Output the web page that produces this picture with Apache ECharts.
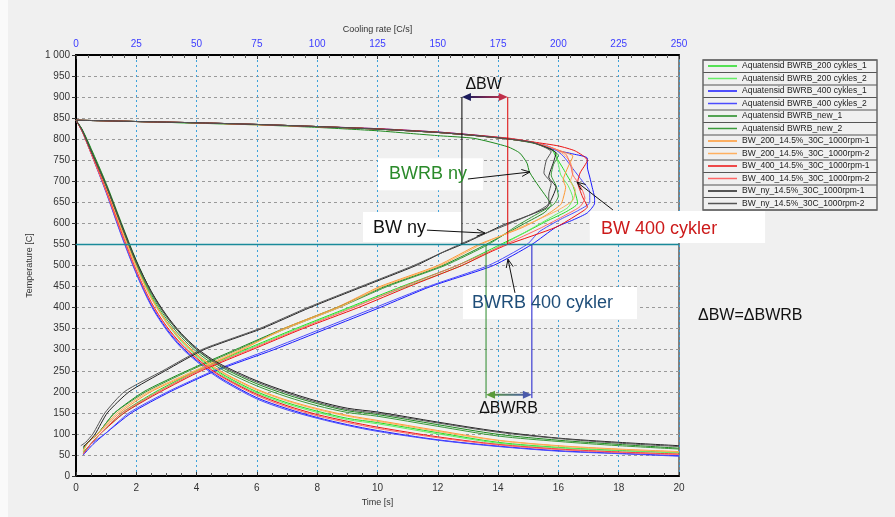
<!DOCTYPE html>
<html><head><meta charset="utf-8">
<script src="https://cdn.jsdelivr.net/npm/echarts@6/dist/echarts.min.js"></script>
<style>html,body{margin:0;padding:0;background:#f0f0f0;}#c{width:895px;height:517px;}</style>
</head><body><div id="c"></div>
<script>
// ---------- DATA ----------
const TIME = [0,0.2,0.5,1,1.5,2,2.5,3,3.5,4,4.5,5,6,7,8,9,10,12,14,16,18,20];
const NAMES = [
 'Aquatensid BWRB_200 cykles_1','Aquatensid BWRB_200 cykles_2',
 'Aquatensid BWRB_400 cykles_1','Aquatensid BWRB_400 cykles_2',
 'Aquatensid BWRB_new_1','Aquatensid BWRB_new_2',
 'BW_200_14.5%_30C_1000rpm-1','BW_200_14.5%_30C_1000rpm-2',
 'BW_400_14.5%_30C_1000rpm-1','BW_400_14.5%_30C_1000rpm-2',
 'BW_ny_14.5%_30C_1000rpm-1','BW_ny_14.5%_30C_1000rpm-2'];
const COLORS = ['#22dd22','#66ee66','#1a1aff','#4c4cff','#1f8a1f','#3a9a3a',
 '#ff9933','#ffb060','#ee1111','#ff6666','#222222','#555555'];

// Temperature vs time (one value per TIME entry)
const T_BWRB200_1 = [845,823,775,690,595,503,426,367,322,287,259,236,200,174,154,137,127,103,80,68,61,56];
const T_BWRB200_2 = [845,822,773,688,592,500,423,364,319,284,256,233,197,171,151,134,124,100,78,67,60,55];
const T_BWRB400_1 = [845,820,768,675,575,483,406,350,307,275,247,224,186,160,139,122,108,86,71,60,54,48];
const T_BWRB400_2 = [845,819,766,673,572,480,403,347,304,272,244,221,183,157,137,120,106,85,70,59,53,47];
const T_BWRBnew_1 = [845,824,778,695,602,512,437,379,335,300,273,252,219,193,172,155,146,122,99,85,75,66];
const T_BWRBnew_2 = [845,822,774,690,596,505,431,373,329,295,268,247,214,188,167,151,142,118,95,82,72,64];
const T_BW200_1   = [845,820,769,683,588,498,423,367,324,290,263,241,206,180,160,144,132,108,85,72,64,58];
const T_BW200_2   = [845,820,768,681,586,496,421,365,322,288,261,239,204,178,158,142,130,106,84,71,63,57];
const T_BW400_1   = [845,819,767,678,580,488,412,356,313,280,252,230,194,167,146,130,116,93,75,64,57,52];
const T_BW400_2   = [845,819,766,676,578,486,410,354,311,278,250,228,191,164,143,127,113,91,74,63,56,51];
const T_BWny_1    = [845,822,772,690,598,510,438,382,338,304,278,258,226,200,178,161,152,128,106,90,80,72];
const T_BWny_2    = [845,821,771,689,596,507,435,379,335,301,275,255,223,197,175,158,149,126,104,89,78,70];

// Temperature vs cooling rate: [rate C/s, temperature C]
const R_BWRB200_1 = [[0,845],[10,844],[25,842],[50,839],[75,835],[100,830],[125,824],[150,816],[165,809],[180,800],[190,792],[197,778],[199,758],[202,730],[204,710],[206,690],[207,672],[208,648],[203,627],[195,605],[186,578],[176,550],[158,500],[135,450],[113,400],[91,350],[70,300],[50,250],[33,200],[19,150],[10,100],[6,75],[3,57]];
const R_BWRB200_2 = [[0,845],[10,844],[25,842],[50,838],[75,835],[100,830],[125,824],[150,816],[165,809],[180,800],[190,791],[196,782],[199,765],[200,740],[201,715],[204,690],[206,660],[204,638],[198,618],[188,585],[177,550],[160,500],[137,450],[114,400],[92,350],[71,300],[51,250],[34,200],[20,150],[10,100],[6,75],[3,55]];
const R_BWRB400_1 = [[0,845],[10,844],[25,842],[50,839],[75,835],[100,830],[125,825],[150,817],[165,810],[180,801],[190,792],[199,774],[206,765],[212,755],[212,734],[213,710],[214,686],[215,660],[215,648],[212,625],[206,608],[199,591],[189,550],[173,500],[147,450],[126,400],[104,350],[82,300],[58,250],[39,200],[23,150],[12,100],[7,75],[3,50]];
const R_BWRB400_2 = [[0,845],[10,844],[25,842],[50,839],[75,835],[100,830],[125,824],[150,816],[165,809],[180,800],[192,790],[198,778],[202,760],[206,730],[210,700],[213,675],[213,650],[208,630],[201,610],[192,580],[187,550],[171,500],[146,450],[124,400],[102,350],[80,300],[57,250],[38,200],[22,150],[12,100],[6,75],[3,50]];
const R_BWRBnew_1 = [[0,845],[10,844],[25,842],[50,838],[75,834],[100,828],[125,820],[140,813],[151,808],[165,802],[179,782],[184,767],[187,743],[188,722],[192,687],[195,663],[197,644],[194,625],[186,600],[170,550],[152,500],[128,450],[108,400],[86,350],[66,300],[46,250],[28,200],[16,150],[9,100],[5,80],[3,67]];
const R_BWRBnew_2 = [[0,845],[10,844],[25,842],[50,839],[75,835],[100,830],[125,824],[150,816],[165,809],[180,800],[190,790],[197,775],[200,762],[198,740],[197,715],[199,690],[200,665],[198,645],[192,625],[183,595],[171,550],[153,500],[129,450],[109,400],[87,350],[67,300],[47,250],[29,200],[16,150],[9,100],[5,80],[3,64]];
const R_BW200_1   = [[0,845],[10,844],[25,842],[50,839],[75,835],[100,830],[125,824],[150,816],[165,809],[180,800],[190,792],[198,778],[203,768],[206,760],[204,734],[202,703],[203,686],[202,660],[201,645],[195,620],[185,590],[167,550],[150,500],[126,450],[108,400],[86,350],[69,300],[50,250],[31,200],[18,150],[9,100],[5,80],[3,60]];
const R_BW200_2   = [[0,845],[10,844],[25,842],[50,839],[75,834],[100,830],[125,824],[150,816],[165,809],[180,800],[190,792],[198,778],[202,765],[205,745],[206,720],[205,700],[207,680],[206,655],[200,632],[190,605],[180,580],[168,550],[151,500],[127,450],[109,400],[87,350],[68,300],[49,250],[30,200],[17,150],[9,100],[5,80],[3,58]];
const R_BW400_1   = [[0,845],[10,844],[25,842],[50,839],[75,835],[100,830],[125,825],[150,817],[165,810],[180,802],[190,793],[200,784],[207,772],[212,750],[209,720],[208,698],[210,663],[212,639],[209,625],[199,591],[179,550],[171,530],[160,500],[138,450],[117,400],[94,350],[73,300],[52,250],[35,200],[20,150],[10,100],[6,75],[3,53]];
const R_BW400_2   = [[0,845],[10,844],[25,842],[50,839],[75,835],[100,830],[125,824],[150,816],[165,809],[180,801],[190,792],[198,778],[203,765],[205,740],[206,715],[209,690],[211,660],[209,640],[203,620],[193,590],[178,550],[158,500],[136,450],[115,400],[93,350],[72,300],[51,250],[34,200],[19,150],[10,100],[6,75],[3,52]];
const R_BWny_1    = [[0,845],[10,844],[25,842],[50,839],[75,835],[100,830],[125,824],[150,816],[165,809],[180,800],[190,791],[199,767],[198,746],[196,710],[199,686],[197,656],[195,637],[185,613],[177,596],[170,577],[160,550],[152,531],[141,500],[119,450],[97,400],[77,350],[53,300],[37,250],[22,200],[13,150],[8,100],[5,80],[3,70]];
const R_BWny_2    = [[0,845],[10,844],[25,842],[50,839],[75,835],[100,830],[125,824],[150,816],[165,809],[180,800],[190,791],[197,770],[195,750],[194,720],[197,695],[196,670],[196,648],[190,625],[180,600],[168,572],[159,550],[140,500],[118,450],[96,400],[76,350],[52,300],[36,250],[20,200],[12,150],[7,100],[4,80],[2,72]];

const TIME_SETS = [T_BWRB200_1,T_BWRB200_2,T_BWRB400_1,T_BWRB400_2,T_BWRBnew_1,T_BWRBnew_2,T_BW200_1,T_BW200_2,T_BW400_1,T_BW400_2,T_BWny_1,T_BWny_2];
const RATE_SETS = [R_BWRB200_1,R_BWRB200_2,R_BWRB400_1,R_BWRB400_2,R_BWRBnew_1,R_BWRBnew_2,R_BW200_1,R_BW200_2,R_BW400_1,R_BW400_2,R_BWny_1,R_BWny_2];

const TIME_TICKS = {min:0,max:20,interval:2};
const RATE_TICKS = {min:0,max:250,interval:25};
const TEMP_TICKS = {min:0,max:1000,interval:50};

// ---------- CHART ----------
const FONT = "'Liberation Sans', Arial, sans-serif";
const chart = echarts.init(document.getElementById('c'), null, {renderer:'canvas'});

const series = [];
NAMES.forEach((n,i)=>{
  series.push({name:n,type:'line',xAxisIndex:0,yAxisIndex:0,symbol:'none',smooth:0.3,
    lineStyle:{width:1,color:COLORS[i]},itemStyle:{color:COLORS[i]},
    data:TIME.map((t,k)=>[t,TIME_SETS[i][k]]),z:2});
  series.push({name:n,type:'line',xAxisIndex:1,yAxisIndex:0,symbol:'none',smooth:0.2,
    lineStyle:{width:1,color:COLORS[i]},itemStyle:{color:COLORS[i]},
    data:RATE_SETS[i],z:2});
});

const option = {
  backgroundColor:'#f0f0f0',
  animation:false,
  textStyle:{fontFamily:FONT},
  grid:{left:76,right:216,top:55,bottom:41,show:true,borderColor:'#808080',borderWidth:2,backgroundColor:'#f0f0f0'},
  legend:{data:NAMES,orient:'vertical',left:708,top:61,icon:'rect',itemWidth:29,itemHeight:1.5,itemGap:2.5,padding:0,
    textStyle:{fontSize:8.5,color:'#222',fontFamily:FONT,lineHeight:10,height:10}},
  xAxis:[
    {type:'value',position:'bottom',min:TIME_TICKS.min,max:TIME_TICKS.max,interval:TIME_TICKS.interval,
     name:'Time [s]',nameLocation:'middle',nameGap:21,nameTextStyle:{fontSize:9,color:'#333'},
     axisLine:{show:true,onZero:false,lineStyle:{color:'#000',width:2}},
     axisTick:{show:true,inside:true,length:4,lineStyle:{color:'#333'}},
     minorTick:{show:true,splitNumber:4,length:3,lineStyle:{color:'#555'}},
     axisLabel:{fontSize:10,color:'#333',margin:7},
     splitLine:{show:true,lineStyle:{type:[2,3],color:'#3ea2da',width:1}}},
    {type:'value',position:'top',min:RATE_TICKS.min,max:RATE_TICKS.max,interval:RATE_TICKS.interval,
     name:'Cooling rate [C/s]',nameLocation:'middle',nameGap:17,nameTextStyle:{fontSize:9,color:'#333'},
     axisLine:{show:true,onZero:false,lineStyle:{color:'#000',width:2}},
     axisTick:{show:true,inside:true,length:4,lineStyle:{color:'#333'}},
     minorTick:{show:true,splitNumber:5,length:3,lineStyle:{color:'#555'}},
     axisLabel:{fontSize:10,color:'#3c3cff',margin:6},
     splitLine:{show:false}}
  ],
  yAxis:[{type:'value',min:TEMP_TICKS.min,max:TEMP_TICKS.max,interval:TEMP_TICKS.interval,
     name:'Temperature [C]',nameLocation:'middle',nameGap:40,nameTextStyle:{fontSize:9,color:'#333'},
     axisLine:{show:true,onZero:false,lineStyle:{color:'#000',width:2}},
     axisTick:{show:true,length:4,lineStyle:{color:'#333'}},
     axisLabel:{fontSize:10,color:'#333',margin:6,formatter:v=>v>=1000?String(v).replace(/(\d)(\d{3})$/,'$1 $2'):String(v)},
     splitLine:{show:true,lineStyle:{type:[3,3],color:'#9a9a9a',width:1}}}],
  series:series
};
chart.setOption(option);

// ---------- ANNOTATIONS (data coordinates: [cooling rate, temperature]) ----------
const P = (r,t)=>chart.convertToPixel({xAxisIndex:1,yAxisIndex:0},[r,t]);
const g = [];
g.push({type:'rect',shape:{x:0,y:0,width:8,height:517},style:{fill:'#fafafa'},z:0});

const BOXES = [[125.2,755,168.7,679],[119,627,160,556],[213,629.5,285.7,553.4],[160.4,449,232.6,373]];
BOXES.forEach(b=>{const a=P(b[0],b[1]),c=P(b[2],b[3]);
  g.push({type:'rect',shape:{x:a[0],y:a[1],width:c[0]-a[0],height:c[1]-a[1]},style:{fill:'#ffffff'},z:10});});

function line(r1,t1,r2,t2,color,w,z){const a=P(r1,t1),b=P(r2,t2);
  g.push({type:'line',shape:{x1:a[0],y1:a[1],x2:b[0],y2:b[1]},style:{stroke:color,lineWidth:w||1},z:z||12});}
line(0,550,250,550,'#1a8a9a',1.5,11);
line(160,900,160,550,'#000000',1);
line(179,900,179,550,'#dd0000',1);
line(170,550,170,185,'#2a8a2a',1);
line(189,550,189,185,'#1a1acc',1);

function dblArrow(r1,r2,t,c1,c2){const a=P(r1,t),b=P(r2,t);
  g.push({type:'line',shape:{x1:a[0]+6,y1:a[1],x2:b[0]-6,y2:b[1]},
    style:{lineWidth:2,stroke:new echarts.graphic.LinearGradient(0,0,1,0,[{offset:0,color:c1},{offset:1,color:c2}])},z:13});
  g.push({type:'polygon',shape:{points:[[a[0],a[1]],[a[0]+9,a[1]-4],[a[0]+9,a[1]+4]]},style:{fill:c1},z:13});
  g.push({type:'polygon',shape:{points:[[b[0],b[1]],[b[0]-9,b[1]-4],[b[0]-9,b[1]+4]]},style:{fill:c2},z:13});}
dblArrow(160,179,900,'#1c1c5c','#c0304a');
dblArrow(170,189,193,'#5a9a3a','#4a5aaa');

function arrow(r1,t1,r2,t2){const a=P(r1,t1),b=P(r2,t2);
  g.push({type:'line',shape:{x1:a[0],y1:a[1],x2:b[0],y2:b[1]},style:{stroke:'#111',lineWidth:1},z:13});
  const ang=Math.atan2(b[1]-a[1],b[0]-a[0]),L=9,s=0.4;
  g.push({type:'polyline',shape:{points:[[b[0]-L*Math.cos(ang-s),b[1]-L*Math.sin(ang-s)],[b[0],b[1]],[b[0]-L*Math.cos(ang+s),b[1]-L*Math.sin(ang+s)]]},
    style:{stroke:'#111',lineWidth:1,fill:null},z:13});}
arrow(162.5,705.5,188.2,722);
arrow(145.5,584,169.6,577);
arrow(222.6,632,207.7,698);
arrow(182,435,179.1,515);

function txt(r,t,s,color,size,align){const p=P(r,t);
  g.push({type:'text',x:p[0],y:p[1],style:{text:s,fill:color,font:size+'px '+FONT,textAlign:align||'left',textVerticalAlign:'middle'},z:14});}
txt(129.8,717,'BWRB ny','#2a8a2a',18);
txt(123.1,589,'BW ny','#111111',18);
txt(217.7,586.7,'BW 400 cykler','#cc1a1a',18);
txt(164.2,411,'BWRB 400 cykler','#1f4e79',18);
txt(169,929,'\u0394BW','#111111',16,'center');
txt(179.3,159,'\u0394BWRB','#111111',16,'center');
g.push({type:'text',x:698,y:316,style:{text:'\u0394BW=\u0394BWRB',fill:'#111',font:'16px '+FONT,textAlign:'left',textVerticalAlign:'middle'},z:14});

const LX1=703,LX2=877,LY0=60,ROW=12.5;
for(let k=0;k<=NAMES.length;k++){
  g.push({type:'line',shape:{x1:LX1,y1:LY0+ROW*k,x2:LX2,y2:LY0+ROW*k},style:{stroke:'#555',lineWidth:1},z:1});
}
g.push({type:'rect',shape:{x:LX1,y:LY0,width:LX2-LX1,height:ROW*NAMES.length},style:{fill:null,stroke:'#666',lineWidth:1.5},z:1});

chart.setOption({graphic:g});
</script></body></html>
